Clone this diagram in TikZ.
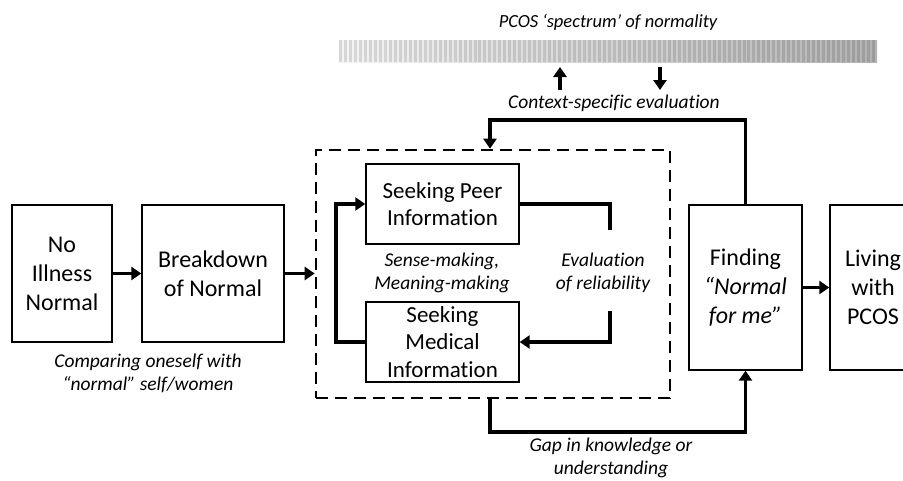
\documentclass[tikz,border=0pt]{standalone}
\usepackage{fontspec}
\setmainfont[Ligatures=NoCommon]{Carlito}
\usetikzlibrary{arrows.meta}
\begin{document}
\begin{tikzpicture}[x=1pt,y=-1pt,
  bigbox/.style={draw,line width=1.4pt,align=center,inner sep=0pt,font=\fontsize{24}{29}\selectfont},
  smallbox/.style={draw,line width=1.4pt,align=center,inner sep=0pt,minimum width=153pt,minimum height=80pt,font=\fontsize{23}{27.5}\selectfont},
  lbl/.style={align=center,inner sep=0pt,font=\fontsize{19.5}{23}\selectfont\itshape},
  conn/.style={line width=3.3pt},
  arr/.style={line width=3.3pt,-{Triangle[length=10pt,width=13pt]}},
  dbx/.style={draw,line width=2.6pt,dash pattern=on 12pt off 7pt,inner sep=0pt}]
\useasboundingbox (0,0) rectangle (903,480);
% gradient bar
\shade[left color=black!4,right color=black!30] (339,40) rectangle (877,62);
\foreach \i [evaluate=\i as \p using {int(16+23*\i/107)}, evaluate=\i as \xx using {339+(\i/108)*538}] in {0,...,107}
  {\fill[black!\p] (\xx,40) rectangle ++(3.0,22);}
\node[lbl,font=\fontsize{18.5}{22}\selectfont\itshape] (title) at (608,22) {PCOS ‘spectrum’ of normality};
\coordinate (ua1) at (560,90); \coordinate (ua2) at (560,67);
\coordinate (da1) at (660,67); \coordinate (da2) at (660,90);
\draw[arr] (ua1) -- (ua2);
\draw[arr] (da1) -- (da2);
\node[lbl] (ctx) at (614,103) {Context-specific evaluation};
% main boxes
\node[bigbox,minimum width=100pt,minimum height=137pt] (A) at (62,273.5) {No\\Illness\\Normal};
\node[bigbox,minimum width=142pt,minimum height=137pt] (B) at (213,273.5) {Breakdown\\of Normal};
\node[dbx,minimum width=354pt,minimum height=248pt] (D) at (493,274) {};
\node[smallbox] (P) at (442.5,204) {Seeking Peer\\Information};
\node[smallbox] (M) at (442.5,342) {Seeking\\Medical\\Information};
\node[bigbox,minimum width=113pt,minimum height=165pt] (F) at (745.5,287.5) {Finding\\\textit{“Normal}\\\textit{for me”}};
\node[bigbox,minimum width=86pt,minimum height=165pt] (L) at (873,287.5) {Living\\with\\PCOS};
% labels
\node[lbl] (cmp) at (148,373) {Comparing oneself with\\“normal” self/women};
\node[lbl] (sense) at (442,273) {Sense-making,\\Meaning-making};
\node[lbl] (eval) at (603,273) {Evaluation\\of reliability};
\node[lbl] (gap) at (611,458) {Gap in knowledge or\\understanding};
% connectors
\draw[arr] (A.east) -- (B.west);
\draw[arr] (B.east) -- (B.east -| D.west);
\draw[arr] (F.east) -- (F.east -| L.west);
\coordinate (t1) at (490,120);
\draw[arr] (F.north) |- (t1) -- (t1 |- D.north);
\coordinate (b1) at (490,432);
\draw[arr] (b1 |- D.south) -- (b1) -| (F.south);
\coordinate (e1) at (610,230);
\coordinate (e2) at (610,311);
\draw[conn] (P.east) -| (e1);
\draw[arr] (e2) |- (M.east);
\coordinate (l1) at (336,273);
\draw[arr] (M.west) -| (l1) |- (P.west);
\end{tikzpicture}
\end{document}
